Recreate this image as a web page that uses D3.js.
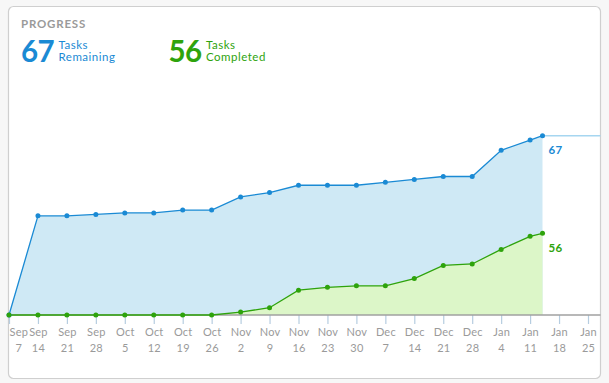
<!DOCTYPE html>
<html><head><meta charset="utf-8">
<script src="https://cdn.jsdelivr.net/npm/d3@7"></script>
<style>
html,body{margin:0;padding:0;background:#f7f7f7;}
svg{display:block;font-family:Lato,"Open Sans",sans-serif;}
</style></head>
<body><svg id="c" width="609" height="383"></svg>
<script>
// ---- data ----
const weeks = ["2014-09-07","2014-09-14","2014-09-21","2014-09-28","2014-10-05","2014-10-12","2014-10-19","2014-10-26",
  "2014-11-02","2014-11-09","2014-11-16","2014-11-23","2014-11-30","2014-12-07","2014-12-14","2014-12-21","2014-12-28",
  "2015-01-04","2015-01-11","2015-01-14"];
const completed = [0,0,0,0,0,0,0,0,2,5,17,19,20,20,25,34,35,45,54,56];
const remaining = [0,68,68,69,70,70,72,72,79,79,72,70,69,71,68,61,60,68,66,67];
const tickDates = ["2014-09-07","2014-09-14","2014-09-21","2014-09-28","2014-10-05","2014-10-12","2014-10-19","2014-10-26",
  "2014-11-02","2014-11-09","2014-11-16","2014-11-23","2014-11-30","2014-12-07","2014-12-14","2014-12-21","2014-12-28",
  "2015-01-04","2015-01-11","2015-01-18","2015-01-25"];
const summary = [
  {value: 67, line1: "Tasks", line2: "Remaining", color: "#1a8ad4"},
  {value: 56, line1: "Tasks", line2: "Completed", color: "#2ea30c"}
];

const parse = d3.timeParse("%Y-%m-%d");
const rows = weeks.map((w,i)=>({date: parse(w), completed: completed[i], remaining: remaining[i]}));
const stacked = d3.stack().keys(["completed","remaining"])(rows);

const blue = "#1a8ad4", blueFill = "#cfe9f5", green = "#2ea30c", greenFill = "#dcf6c8";

const svg = d3.select("#c");
// card
svg.append("rect").attr("x",8.5).attr("y",6.5).attr("width",592).attr("height",372)
  .attr("rx",5).attr("fill","#fff").attr("stroke","#cfcfcf").attr("stroke-width",1.2);

const x = d3.scaleTime().domain([parse(tickDates[0]), parse(tickDates[tickDates.length-1])]).range([9,588]);
const y = d3.scaleLinear().domain([0,123]).range([315,135.7]);
const rightEdge = 600.5;

// header
svg.append("text").attr("x",21).attr("y",27.5).text("PROGRESS")
  .attr("fill","#9a9a9a").attr("font-size",11.5).attr("font-weight",700).attr("letter-spacing",0.8);
const hdr = svg.selectAll("g.sum").data(summary).join("g").attr("class","sum")
  .attr("transform",(d,i)=>`translate(${i?168.5:21},0)`);
hdr.append("text").attr("x",0).attr("y",61.5).text(d=>d.value)
  .attr("fill",d=>d.color).attr("font-size",29.5).attr("font-weight",700).attr("letter-spacing",-0.5);
hdr.append("text").attr("x",37.5).attr("y",48.5).text(d=>d.line1).attr("fill",d=>d.color).attr("font-size",11.5).attr("letter-spacing",0.5);
hdr.append("text").attr("x",37.5).attr("y",61).text(d=>d.line2).attr("fill",d=>d.color).attr("font-size",11.5).attr("letter-spacing",0.5);

// areas
const area = d3.area().x(d=>x(d.data.date)).y0(d=>y(d[0])).y1(d=>y(d[1]));
const areaTotal = d3.area().x(d=>x(d.data.date)).y0(y(0)).y1(d=>y(d[1]));
svg.append("path").datum(stacked[1]).attr("d",areaTotal).attr("fill",blueFill);
svg.append("path").datum(stacked[0]).attr("d",area).attr("fill",greenFill);

// continuation line for total
const last = stacked[1][stacked[1].length-1];
svg.append("line").attr("x1",x(last.data.date)).attr("x2",rightEdge)
  .attr("y1",y(last[1])).attr("y2",y(last[1])).attr("stroke","#a6d6f0").attr("stroke-width",1.5);

// axis
const xAxis = d3.axisBottom(x).tickValues(tickDates.map(parse)).tickSize(9).tickSizeOuter(0).tickFormat("");
const ax = svg.append("g").attr("transform",`translate(0,${y(0)})`).call(xAxis);
ax.select(".domain").remove();
ax.selectAll(".tick line").attr("stroke","#b6cde0").attr("stroke-width",1.2);
svg.append("line").attr("x1",x.range()[0]).attr("x2",rightEdge).attr("y1",y(0)).attr("y2",y(0))
  .attr("stroke","#a0a0a0").attr("stroke-width",1.5);
const fmtM = d3.timeFormat("%b"), fmtD = d3.timeFormat("%-d");
ax.selectAll(".tick").each(function(d,i){
  const t = d3.select(this).append("text").attr("fill","#9a9a9a").attr("font-size",11)
    .attr("text-anchor","middle").attr("font-family","Lato,'Open Sans',sans-serif").attr("letter-spacing",0.2);
  const a = t.append("tspan").attr("x",0).attr("y",21).text(fmtM(d));
  t.append("tspan").attr("x",0).attr("y",37).text(fmtD(d));
  if(i===0){
    const w = a.node().getComputedTextLength();
    t.attr("transform",`translate(${w/2},0)`);
  }
});

// lines
const lineTotal = d3.line().x(d=>x(d.data.date)).y(d=>y(d[1]));
svg.append("path").datum(stacked[1]).attr("d",lineTotal).attr("fill","none").attr("stroke",blue).attr("stroke-width",1.3);
svg.append("path").datum(stacked[0]).attr("d",lineTotal).attr("fill","none").attr("stroke",green).attr("stroke-width",1.3);

svg.append("g").selectAll("circle").data(stacked[1]).join("circle")
  .attr("cx",d=>x(d.data.date)).attr("cy",d=>y(d[1])).attr("r",2.5).attr("fill",blue);
svg.append("g").selectAll("circle").data(stacked[0]).join("circle")
  .attr("cx",d=>x(d.data.date)).attr("cy",d=>y(d[1])).attr("r",2.5).attr("fill",green);

// end labels
const endLabels = [{s: stacked[1], c: blue}, {s: stacked[0], c: green}];
svg.selectAll("text.end").data(endLabels).join("text").attr("class","end")
  .attr("x",d=>x(d.s[d.s.length-1].data.date)+6)
  .attr("y",d=>y(d.s[d.s.length-1][1])+18.5)
  .text(d=>d.s[d.s.length-1][1]-d.s[d.s.length-1][0])
  .attr("fill",d=>d.c).attr("font-size",11.5).attr("font-weight",700).attr("letter-spacing",0.3);
</script></body></html>
